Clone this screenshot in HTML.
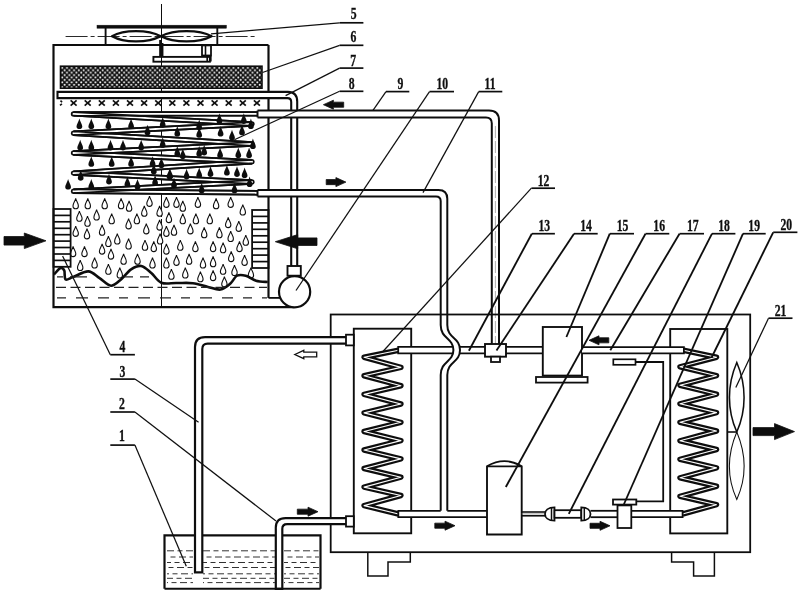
<!DOCTYPE html>
<html><head><meta charset="utf-8"><title>Diagram</title>
<style>
html,body{margin:0;padding:0;background:#fff;}
body{width:800px;height:595px;overflow:hidden;font-family:"Liberation Serif",serif;}
svg{display:block;}
.lb{font-family:"Liberation Serif",serif;font-weight:bold;font-size:16.5px;fill:#111;stroke:#111;stroke-width:0.35px;}
</style></head><body>
<svg width="800" height="595" viewBox="0 0 800 595" fill="none" stroke="#111">
<defs><filter id="soft" x="0" y="0" width="100%" height="100%" filterUnits="userSpaceOnUse"><feGaussianBlur stdDeviation="0.45"/></filter></defs>
<rect x="0" y="0" width="800" height="595" fill="#fff" stroke="none"/>
<g filter="url(#soft)">
<rect x="0" y="0" width="800" height="595" fill="#fff" stroke="none"/>
<path d="M268.5,45 L53.5,45 L53.5,307.2 L294,307.2" stroke-width="2.2" fill="none" />
<path d="M268.5,45 L268.5,298" stroke-width="2.2" fill="none" />
<line x1="161.5" y1="4" x2="161.5" y2="204" stroke-width="1.0" />
<line x1="161.5" y1="204" x2="161.5" y2="232" stroke-width="1.0" stroke-dasharray="9 2 2 2"/>
<line x1="161.5" y1="232" x2="161.5" y2="307.2" stroke-width="1.0" />
<rect x="97" y="25.2" width="129.4" height="3.0" stroke-width="0.5" fill="#111" />
<line x1="105.6" y1="28" x2="105.6" y2="45" stroke-width="1.9" />
<line x1="217.3" y1="28" x2="217.3" y2="45" stroke-width="1.9" />
<line x1="65.6" y1="36.5" x2="257" y2="36.5" stroke-width="0.9" stroke-dasharray="22 3 4 3"/>
<path d="M112,36.3 C124,29.4 148,29.6 160.8,36.3 C148,43 124,43.2 112,36.3 Z" stroke-width="2.3" fill="none" stroke-linejoin="round"/>
<path d="M211.6,36.3 C199,29.4 174,29.6 160.8,36.3 C174,43 199,43.2 211.6,36.3 Z" stroke-width="2.3" fill="none" stroke-linejoin="round"/>
<line x1="160.3" y1="40" x2="160.3" y2="57" stroke-width="2.3" />
<line x1="162.7" y1="43" x2="162.7" y2="57" stroke-width="1.5" />
<rect x="202" y="45.4" width="9" height="10.1" stroke-width="1.8" fill="none" />
<line x1="205.5" y1="45.4" x2="205.5" y2="55.5" stroke-width="1.6" />
<line x1="207.2" y1="55.5" x2="207.2" y2="61.5" stroke-width="1.7" />
<line x1="210.8" y1="55.5" x2="210.8" y2="61.5" stroke-width="1.7" />
<rect x="153.4" y="56.9" width="56.5" height="4.8" stroke-width="1.9" fill="none" />
<defs><pattern id="ht" width="4.76" height="4.86" patternUnits="userSpaceOnUse" x="61" y="66.6"><rect width="4.76" height="4.86" fill="#111" stroke="none"/><circle cx="1.19" cy="1.21" r="1.02" fill="#fff" stroke="none"/><circle cx="3.57" cy="3.64" r="1.02" fill="#fff" stroke="none"/></pattern></defs>
<rect x="60.5" y="66.2" width="201.5" height="22" fill="url(#ht)" stroke="#111" stroke-width="1.6"/>
<path d="M291.2,266 L291.2,102 Q291.2,98.1 287.5,98.1 L57.5,98.1 L57.5,91.9 L288,91.9 Q297.2,91.9 297.2,101.5 L297.2,266" stroke-width="2.1" fill="#fff" />
<line x1="60.5" y1="100.6" x2="62.1" y2="102.2" stroke-width="1.6" />
<line x1="60.0" y1="105.4" x2="61.9" y2="103.8" stroke-width="1.6" />
<line x1="70.6" y1="100.3" x2="76.6" y2="105.7" stroke-width="1.7" />
<line x1="70.6" y1="105.7" x2="76.6" y2="100.3" stroke-width="1.7" />
<line x1="84.7" y1="100.3" x2="90.7" y2="105.7" stroke-width="1.7" />
<line x1="84.7" y1="105.7" x2="90.7" y2="100.3" stroke-width="1.7" />
<line x1="98.8" y1="100.3" x2="104.8" y2="105.7" stroke-width="1.7" />
<line x1="98.8" y1="105.7" x2="104.8" y2="100.3" stroke-width="1.7" />
<line x1="112.9" y1="100.3" x2="118.9" y2="105.7" stroke-width="1.7" />
<line x1="112.9" y1="105.7" x2="118.9" y2="100.3" stroke-width="1.7" />
<line x1="127.0" y1="100.3" x2="133.0" y2="105.7" stroke-width="1.7" />
<line x1="127.0" y1="105.7" x2="133.0" y2="100.3" stroke-width="1.7" />
<line x1="141.1" y1="100.3" x2="147.1" y2="105.7" stroke-width="1.7" />
<line x1="141.1" y1="105.7" x2="147.1" y2="100.3" stroke-width="1.7" />
<line x1="155.2" y1="100.3" x2="161.2" y2="105.7" stroke-width="1.7" />
<line x1="155.2" y1="105.7" x2="161.2" y2="100.3" stroke-width="1.7" />
<line x1="169.3" y1="100.3" x2="175.3" y2="105.7" stroke-width="1.7" />
<line x1="169.3" y1="105.7" x2="175.3" y2="100.3" stroke-width="1.7" />
<line x1="183.39999999999998" y1="100.3" x2="189.39999999999998" y2="105.7" stroke-width="1.7" />
<line x1="183.39999999999998" y1="105.7" x2="189.39999999999998" y2="100.3" stroke-width="1.7" />
<line x1="197.5" y1="100.3" x2="203.5" y2="105.7" stroke-width="1.7" />
<line x1="197.5" y1="105.7" x2="203.5" y2="100.3" stroke-width="1.7" />
<line x1="211.6" y1="100.3" x2="217.6" y2="105.7" stroke-width="1.7" />
<line x1="211.6" y1="105.7" x2="217.6" y2="100.3" stroke-width="1.7" />
<line x1="225.7" y1="100.3" x2="231.7" y2="105.7" stroke-width="1.7" />
<line x1="225.7" y1="105.7" x2="231.7" y2="100.3" stroke-width="1.7" />
<line x1="239.79999999999998" y1="100.3" x2="245.79999999999998" y2="105.7" stroke-width="1.7" />
<line x1="239.79999999999998" y1="105.7" x2="245.79999999999998" y2="100.3" stroke-width="1.7" />
<line x1="253.89999999999998" y1="100.3" x2="259.9" y2="105.7" stroke-width="1.7" />
<line x1="253.89999999999998" y1="105.7" x2="259.9" y2="100.3" stroke-width="1.7" />
<path d="M258,113.9 L73.5,113.9 L252,124 L73.5,133.3 L252,144 L73.5,153 L252,161.8 L73.5,173.1 L252,182 L73.5,191.3 L258,192.8" stroke="#111" stroke-width="5.4" fill="none" stroke-linejoin="round" stroke-linecap="butt"/>
<path d="M258,113.9 L73.5,113.9 L252,124 L73.5,133.3 L252,144 L73.5,153 L252,161.8 L73.5,173.1 L252,182 L73.5,191.3 L258,192.8" stroke="#fff" stroke-width="1.9" fill="none" stroke-linejoin="round" stroke-linecap="butt"/>
<line x1="258.00" y1="112.05" x2="73.50" y2="112.05" stroke="#111" stroke-width="1.7"/>
<line x1="258.00" y1="115.75" x2="73.50" y2="115.75" stroke="#111" stroke-width="1.7"/>
<line x1="73.40" y1="115.75" x2="251.90" y2="125.85" stroke="#111" stroke-width="1.7"/>
<line x1="73.60" y1="112.05" x2="252.10" y2="122.15" stroke="#111" stroke-width="1.7"/>
<line x1="251.90" y1="122.15" x2="73.40" y2="131.45" stroke="#111" stroke-width="1.7"/>
<line x1="252.10" y1="125.85" x2="73.60" y2="135.15" stroke="#111" stroke-width="1.7"/>
<line x1="73.39" y1="135.15" x2="251.89" y2="145.85" stroke="#111" stroke-width="1.7"/>
<line x1="73.61" y1="131.45" x2="252.11" y2="142.15" stroke="#111" stroke-width="1.7"/>
<line x1="251.91" y1="142.15" x2="73.41" y2="151.15" stroke="#111" stroke-width="1.7"/>
<line x1="252.09" y1="145.85" x2="73.59" y2="154.85" stroke="#111" stroke-width="1.7"/>
<line x1="73.41" y1="154.85" x2="251.91" y2="163.65" stroke="#111" stroke-width="1.7"/>
<line x1="73.59" y1="151.15" x2="252.09" y2="159.95" stroke="#111" stroke-width="1.7"/>
<line x1="251.88" y1="159.95" x2="73.38" y2="171.25" stroke="#111" stroke-width="1.7"/>
<line x1="252.12" y1="163.65" x2="73.62" y2="174.95" stroke="#111" stroke-width="1.7"/>
<line x1="73.41" y1="174.95" x2="251.91" y2="183.85" stroke="#111" stroke-width="1.7"/>
<line x1="73.59" y1="171.25" x2="252.09" y2="180.15" stroke="#111" stroke-width="1.7"/>
<line x1="251.90" y1="180.15" x2="73.40" y2="189.45" stroke="#111" stroke-width="1.7"/>
<line x1="252.10" y1="183.85" x2="73.60" y2="193.15" stroke="#111" stroke-width="1.7"/>
<line x1="73.48" y1="193.15" x2="257.98" y2="194.65" stroke="#111" stroke-width="1.7"/>
<line x1="73.52" y1="189.45" x2="258.02" y2="190.95" stroke="#111" stroke-width="1.7"/>
<defs><path id="bd" d="M0,-5.6 C0.5,-3 2.9,0.2 2.9,2.4 C2.9,4.2 1.5,5 0,5 C-1.5,5 -2.9,4.2 -2.9,2.4 C-2.9,0.2 -0.5,-3 0,-5.6 Z" fill="#111" stroke="none"/>
<path id="od" d="M0,-5.4 C0.5,-2.7 2.7,-0.5 2.7,2.1 C2.7,3.9 1.5,4.9 0,4.9 C-1.5,4.9 -2.7,3.9 -2.7,2.1 C-2.7,-0.5 -0.5,-2.7 0,-5.4 Z" fill="#fff" stroke="#111" stroke-width="1.1"/></defs>
<use href="#bd" x="79.4" y="124"/>
<use href="#bd" x="91.3" y="124"/>
<use href="#bd" x="108.4" y="124"/>
<use href="#bd" x="131.1" y="124"/>
<use href="#bd" x="162.7" y="122.7"/>
<use href="#bd" x="147.5" y="130.3"/>
<use href="#bd" x="177.3" y="131.5"/>
<use href="#bd" x="80.2" y="145.4"/>
<use href="#bd" x="91.3" y="145.4"/>
<use href="#bd" x="110.5" y="145.4"/>
<use href="#bd" x="123" y="145.4"/>
<use href="#bd" x="141.2" y="145.4"/>
<use href="#bd" x="162.7" y="142.9"/>
<use href="#bd" x="177.3" y="151.7"/>
<use href="#bd" x="182.8" y="154.2"/>
<use href="#bd" x="91.3" y="161.8"/>
<use href="#bd" x="111.7" y="161.8"/>
<use href="#bd" x="131.1" y="161.8"/>
<use href="#bd" x="152.6" y="161.8"/>
<use href="#bd" x="161.4" y="163"/>
<use href="#bd" x="153.8" y="169.4"/>
<use href="#bd" x="80.7" y="175.7"/>
<use href="#bd" x="68.1" y="184.5"/>
<use href="#bd" x="91.3" y="184.5"/>
<use href="#bd" x="109" y="179.4"/>
<use href="#bd" x="127.4" y="182"/>
<use href="#bd" x="137.5" y="184.5"/>
<use href="#bd" x="155.1" y="180.7"/>
<use href="#bd" x="169.5" y="174.4"/>
<use href="#bd" x="186.6" y="174.4"/>
<use href="#bd" x="174" y="183.2"/>
<use href="#bd" x="219.4" y="118.9"/>
<use href="#bd" x="243.8" y="118.9"/>
<use href="#bd" x="250.9" y="124"/>
<use href="#bd" x="199.2" y="125.2"/>
<use href="#bd" x="199.2" y="132.8"/>
<use href="#bd" x="220.6" y="131.5"/>
<use href="#bd" x="232" y="135.3"/>
<use href="#bd" x="242" y="130.3"/>
<use href="#bd" x="252.9" y="144.1"/>
<use href="#bd" x="199.2" y="151.7"/>
<use href="#bd" x="204.2" y="150.4"/>
<use href="#bd" x="220.1" y="153"/>
<use href="#bd" x="238.3" y="153"/>
<use href="#bd" x="249.1" y="153"/>
<use href="#bd" x="170.2" y="174.4"/>
<use href="#bd" x="199.2" y="173.1"/>
<use href="#bd" x="210.5" y="171.9"/>
<use href="#bd" x="226.9" y="170.6"/>
<use href="#bd" x="237" y="171.9"/>
<use href="#bd" x="244.6" y="173.1"/>
<use href="#bd" x="201.7" y="188.3"/>
<use href="#bd" x="234.5" y="188.3"/>
<use href="#bd" x="249.6" y="182"/>
<use href="#od" x="149.5" y="201.5"/>
<use href="#od" x="75.7" y="203.8"/>
<use href="#od" x="87.8" y="203.8"/>
<use href="#od" x="104.7" y="203.8"/>
<use href="#od" x="121.1" y="203.8"/>
<use href="#od" x="129.1" y="206.3"/>
<use href="#od" x="79.4" y="216.4"/>
<use href="#od" x="87.5" y="221.4"/>
<use href="#od" x="96.6" y="215.1"/>
<use href="#od" x="111.7" y="218.9"/>
<use href="#od" x="128.6" y="224.0"/>
<use href="#od" x="136.9" y="218.9"/>
<use href="#od" x="144.3" y="211.3"/>
<use href="#od" x="75.7" y="231.5"/>
<use href="#od" x="87.0" y="234.0"/>
<use href="#od" x="102.1" y="230.3"/>
<use href="#od" x="108.4" y="241.6"/>
<use href="#od" x="117.3" y="239.1"/>
<use href="#od" x="128.6" y="244.1"/>
<use href="#od" x="146.3" y="229.0"/>
<use href="#od" x="145.0" y="245.4"/>
<use href="#od" x="73.1" y="251.7"/>
<use href="#od" x="84.5" y="251.7"/>
<use href="#od" x="102.1" y="249.2"/>
<use href="#od" x="111.0" y="254.2"/>
<use href="#od" x="123.6" y="259.3"/>
<use href="#od" x="137.5" y="259.3"/>
<use href="#od" x="80.2" y="265.6"/>
<use href="#od" x="94.6" y="263.1"/>
<use href="#od" x="108.4" y="269.4"/>
<use href="#od" x="119.8" y="273.1"/>
<use href="#od" x="166.4" y="202.5"/>
<use href="#od" x="176.5" y="202.5"/>
<use href="#od" x="182.8" y="206.3"/>
<use href="#od" x="197.9" y="202.5"/>
<use href="#od" x="216.1" y="203.8"/>
<use href="#od" x="230.7" y="202.5"/>
<use href="#od" x="159.6" y="211.3"/>
<use href="#od" x="168.9" y="217.7"/>
<use href="#od" x="182.8" y="218.9"/>
<use href="#od" x="195.9" y="218.9"/>
<use href="#od" x="209.8" y="218.9"/>
<use href="#od" x="228.2" y="222.7"/>
<use href="#od" x="242.8" y="210.1"/>
<use href="#od" x="159.6" y="225.2"/>
<use href="#od" x="166.4" y="231.5"/>
<use href="#od" x="174.0" y="230.3"/>
<use href="#od" x="190.4" y="229.0"/>
<use href="#od" x="204.2" y="232.8"/>
<use href="#od" x="219.4" y="232.8"/>
<use href="#od" x="230.7" y="236.6"/>
<use href="#od" x="238.8" y="226.5"/>
<use href="#od" x="245.8" y="240.4"/>
<use href="#od" x="153.8" y="246.7"/>
<use href="#od" x="166.4" y="249.2"/>
<use href="#od" x="180.3" y="245.4"/>
<use href="#od" x="195.4" y="246.7"/>
<use href="#od" x="213.1" y="246.7"/>
<use href="#od" x="223.1" y="247.9"/>
<use href="#od" x="239.5" y="246.7"/>
<use href="#od" x="160.1" y="239.1"/>
<use href="#od" x="152.5" y="263.1"/>
<use href="#od" x="166.4" y="263.1"/>
<use href="#od" x="176.5" y="260.5"/>
<use href="#od" x="189.1" y="259.3"/>
<use href="#od" x="203.0" y="263.1"/>
<use href="#od" x="213.1" y="261.8"/>
<use href="#od" x="231.2" y="256.7"/>
<use href="#od" x="244.6" y="260.5"/>
<use href="#od" x="171.4" y="274.4"/>
<use href="#od" x="185.3" y="273.1"/>
<use href="#od" x="200.4" y="276.9"/>
<use href="#od" x="213.1" y="275.7"/>
<use href="#od" x="223.1" y="269.4"/>
<use href="#od" x="224.4" y="282.0"/>
<use href="#od" x="234.5" y="270.6"/>
<use href="#od" x="250.9" y="273.1"/>
<rect x="53.5" y="209" width="17.1" height="57.8" stroke-width="1.8" fill="none" />
<line x1="53.5" y1="215.4" x2="70.6" y2="215.4" stroke-width="1.7" />
<line x1="53.5" y1="221.8" x2="70.6" y2="221.8" stroke-width="1.7" />
<line x1="53.5" y1="228.3" x2="70.6" y2="228.3" stroke-width="1.7" />
<line x1="53.5" y1="234.7" x2="70.6" y2="234.7" stroke-width="1.7" />
<line x1="53.5" y1="241.1" x2="70.6" y2="241.1" stroke-width="1.7" />
<line x1="53.5" y1="247.5" x2="70.6" y2="247.5" stroke-width="1.7" />
<line x1="53.5" y1="254.0" x2="70.6" y2="254.0" stroke-width="1.7" />
<line x1="53.5" y1="260.4" x2="70.6" y2="260.4" stroke-width="1.7" />
<rect x="252.1" y="210" width="16.4" height="58" stroke-width="1.8" fill="none" />
<line x1="252.1" y1="216.4" x2="268.5" y2="216.4" stroke-width="1.7" />
<line x1="252.1" y1="222.9" x2="268.5" y2="222.9" stroke-width="1.7" />
<line x1="252.1" y1="229.3" x2="268.5" y2="229.3" stroke-width="1.7" />
<line x1="252.1" y1="235.8" x2="268.5" y2="235.8" stroke-width="1.7" />
<line x1="252.1" y1="242.2" x2="268.5" y2="242.2" stroke-width="1.7" />
<line x1="252.1" y1="248.7" x2="268.5" y2="248.7" stroke-width="1.7" />
<line x1="252.1" y1="255.1" x2="268.5" y2="255.1" stroke-width="1.7" />
<line x1="252.1" y1="261.6" x2="268.5" y2="261.6" stroke-width="1.7" />
<path d="M54,274.5 C55.1,273.4 58.8,268.6 60.5,268 C62.2,267.4 63.4,268.7 64.3,270.6 C65.1,272.5 64.1,278.3 65.6,279.4 C67.1,280.5 69.3,278.3 73.1,277 C76.9,275.7 83.9,271.2 88.3,271.4 C92.7,271.6 95.8,275.8 99.6,278.2 C103.4,280.6 107.4,285.5 111,285.7 C114.6,285.9 117.7,282.1 121,279.4 C124.3,276.7 127.7,271.6 131.1,269.4 C134.5,267.2 137.8,265.4 141.2,266 C144.6,266.6 147.9,270.2 151.3,273 C154.7,275.8 157.2,281.0 161.4,282.7 C165.6,284.4 171.2,282.9 176.5,283 C181.8,283.1 187.7,282.5 192.9,283.2 C198.2,283.9 203.4,285.9 208,287 C212.6,288.1 216.8,290.1 220.6,289.5 C224.4,288.9 228.0,285.5 230.7,283.2 C233.4,280.9 234.5,276.9 237,275.7 C239.5,274.4 242.6,274.9 245.8,275.7 C249.0,276.5 252.3,279.6 256,280.7 C259.7,281.8 265.8,281.8 267.8,282" stroke-width="2.6" fill="none" stroke-linejoin="round"/>
<line x1="57" y1="276.8" x2="150" y2="276.8" stroke="#222" stroke-width="1.3" stroke-dasharray="6 7 17 7 0 30 9 7 9 100"/>
<line x1="56" y1="287.3" x2="267" y2="287.3" stroke="#222" stroke-width="1.3" stroke-dasharray="10 4.5"/>
<line x1="57" y1="297.8" x2="267" y2="297.8" stroke="#222" stroke-width="1.3" stroke-dasharray="9 10 12 10 11 10"/>
<rect x="287.5" y="266" width="13.3" height="9.7" stroke-width="1.9" fill="#fff" />
<circle cx="294.6" cy="291.8" r="15.6" fill="#fff" stroke="#111" stroke-width="2.2"/>
<line x1="268.5" y1="297.9" x2="280.5" y2="297.9" stroke-width="1.8" />
<path d="M46,240.8 L24.3,233.0 L24.3,236.5 L4,236.5 L4,245.10000000000002 L24.3,245.10000000000002 L24.3,248.60000000000002 Z" fill="#111" stroke="#111" stroke-width="0.8" stroke-linejoin="miter"/>
<path d="M275.3,241.7 L297.7,234.6 L297.7,237.89999999999998 L317.0,237.89999999999998 L317.0,245.5 L297.7,245.5 L297.7,248.79999999999998 Z" fill="#111" stroke="#111" stroke-width="0.8" stroke-linejoin="miter"/>
<path d="M323.4,104.7 L333.4,100.2 L333.4,102.15 L343.7,102.15 L343.7,107.25 L333.4,107.25 L333.4,109.2 Z" fill="#111" stroke="#111" stroke-width="0.8" stroke-linejoin="miter"/>
<path d="M345.9,182.1 L335.9,177.6 L335.9,179.54999999999998 L326.2,179.54999999999998 L326.2,184.65 L335.9,184.65 L335.9,186.6 Z" fill="#111" stroke="#111" stroke-width="0.8" stroke-linejoin="miter"/>
<rect x="330.7" y="314.5" width="419.5" height="237.7" stroke-width="1.8" fill="none" />
<path d="M367.8,552.2 L367.8,576 L388,576 L388,562 L410.3,562 L410.3,552.2" stroke-width="1.5" fill="none" />
<path d="M671.6,552.2 L671.6,562 L693.6,562 L693.6,576 L714.4,576 L714.4,552.2" stroke-width="1.5" fill="none" />
<rect x="353.8" y="328.7" width="57.4" height="204.6" stroke-width="1.9" fill="none" />
<rect x="670.2" y="329" width="57.1" height="204.4" stroke-width="1.9" fill="none" />
<path d="M347,337.1 L205,337.1 Q195,337.1 195,347 L195,572.3 L202.3,572.3 L202.3,349 Q202.3,343.6 207.6,343.6 L347,343.6" stroke-width="2.2" fill="#fff" />
<path d="M347,518.1 L285.5,518.1 Q275.8,518.1 275.8,527.6 L275.8,588.8 L282.3,588.8 L282.3,528.8 Q282.3,524.2 287,524.2 L347,524.2" stroke-width="2.2" fill="#fff" />
<rect x="346" y="334.7" width="7.8" height="10.7" stroke-width="1.8" fill="#fff" />
<rect x="346" y="516.2" width="7.8" height="10.4" stroke-width="1.8" fill="#fff" />
<path d="M164.5,588.8 L164.5,535.3 L195,535.3 M202.3,535.3 L275.8,535.3 M282.3,535.3 L320.5,535.3 L320.5,588.8" stroke-width="2.2" fill="none" />
<line x1="164.5" y1="588.8" x2="320.6" y2="588.8" stroke-width="2.1" />
<line x1="167" y1="550.8" x2="193" y2="550.8" stroke-width="1.0" stroke="#333" stroke-dasharray="7 3.5 5 3.5" stroke-dashoffset="0"/>
<line x1="203" y1="550.8" x2="275" y2="550.8" stroke-width="1.0" stroke="#333" stroke-dasharray="7 3.5 5 3.5" stroke-dashoffset="0"/>
<line x1="284" y1="550.8" x2="319" y2="550.8" stroke-width="1.0" stroke="#333" stroke-dasharray="7 3.5 5 3.5" stroke-dashoffset="0"/>
<line x1="167" y1="557" x2="193" y2="557" stroke-width="1.0" stroke="#333" stroke-dasharray="7 3.5 5 3.5" stroke-dashoffset="7"/>
<line x1="203" y1="557" x2="275" y2="557" stroke-width="1.0" stroke="#333" stroke-dasharray="7 3.5 5 3.5" stroke-dashoffset="7"/>
<line x1="284" y1="557" x2="319" y2="557" stroke-width="1.0" stroke="#333" stroke-dasharray="7 3.5 5 3.5" stroke-dashoffset="7"/>
<line x1="167" y1="562.5" x2="193" y2="562.5" stroke-width="1.0" stroke="#333" stroke-dasharray="7 3.5 5 3.5" stroke-dashoffset="3"/>
<line x1="203" y1="562.5" x2="275" y2="562.5" stroke-width="1.0" stroke="#333" stroke-dasharray="7 3.5 5 3.5" stroke-dashoffset="3"/>
<line x1="284" y1="562.5" x2="319" y2="562.5" stroke-width="1.0" stroke="#333" stroke-dasharray="7 3.5 5 3.5" stroke-dashoffset="3"/>
<line x1="167" y1="567.5" x2="193" y2="567.5" stroke-width="1.0" stroke="#333" stroke-dasharray="7 3.5 5 3.5" stroke-dashoffset="9"/>
<line x1="203" y1="567.5" x2="275" y2="567.5" stroke-width="1.0" stroke="#333" stroke-dasharray="7 3.5 5 3.5" stroke-dashoffset="9"/>
<line x1="284" y1="567.5" x2="319" y2="567.5" stroke-width="1.0" stroke="#333" stroke-dasharray="7 3.5 5 3.5" stroke-dashoffset="9"/>
<line x1="167" y1="573.8" x2="193" y2="573.8" stroke-width="1.0" stroke="#333" stroke-dasharray="7 3.5 5 3.5" stroke-dashoffset="5"/>
<line x1="203" y1="573.8" x2="275" y2="573.8" stroke-width="1.0" stroke="#333" stroke-dasharray="7 3.5 5 3.5" stroke-dashoffset="5"/>
<line x1="284" y1="573.8" x2="319" y2="573.8" stroke-width="1.0" stroke="#333" stroke-dasharray="7 3.5 5 3.5" stroke-dashoffset="5"/>
<line x1="167" y1="578.3" x2="193" y2="578.3" stroke-width="1.0" stroke="#333" stroke-dasharray="7 3.5 5 3.5" stroke-dashoffset="1"/>
<line x1="203" y1="578.3" x2="275" y2="578.3" stroke-width="1.0" stroke="#333" stroke-dasharray="7 3.5 5 3.5" stroke-dashoffset="1"/>
<line x1="284" y1="578.3" x2="319" y2="578.3" stroke-width="1.0" stroke="#333" stroke-dasharray="7 3.5 5 3.5" stroke-dashoffset="1"/>
<line x1="167" y1="582.6" x2="193" y2="582.6" stroke-width="1.0" stroke="#333" stroke-dasharray="7 3.5 5 3.5" stroke-dashoffset="6"/>
<line x1="203" y1="582.6" x2="275" y2="582.6" stroke-width="1.0" stroke="#333" stroke-dasharray="7 3.5 5 3.5" stroke-dashoffset="6"/>
<line x1="284" y1="582.6" x2="319" y2="582.6" stroke-width="1.0" stroke="#333" stroke-dasharray="7 3.5 5 3.5" stroke-dashoffset="6"/>
<path d="M294.8,354.5 L303.8,350.3 L303.8,352.2 L316.7,352.2 L316.7,356.8 L303.8,356.8 L303.8,358.7 Z" fill="#fff" stroke="#111" stroke-width="1.3" stroke-linejoin="miter"/>
<path d="M318,511.7 L308,507.2 L308,509.15 L297.3,509.15 L297.3,514.25 L308,514.25 L308,516.2 Z" fill="#111" stroke="#111" stroke-width="0.8" stroke-linejoin="miter"/>
<path d="M398.5,350.3 L364.1,357.3 L400.9,367.4 L364.1,375.8 L400.9,385.7 L364.1,394.4 L400.9,404.0 L364.1,412.9 L400.9,422.3 L364.1,431.5 L400.9,440.6 L364.1,450.0 L400.9,458.9 L364.1,468.5 L400.9,477.2 L364.1,487.1 L400.9,495.5 L364.1,505.6 L398.5,514.0" stroke="#111" stroke-width="5.5" fill="none" stroke-linejoin="round" stroke-linecap="butt"/>
<path d="M398.5,350.3 L364.1,357.3 L400.9,367.4 L364.1,375.8 L400.9,385.7 L364.1,394.4 L400.9,404.0 L364.1,412.9 L400.9,422.3 L364.1,431.5 L400.9,440.6 L364.1,450.0 L400.9,458.9 L364.1,468.5 L400.9,477.2 L364.1,487.1 L400.9,495.5 L364.1,505.6 L398.5,514.0" stroke="#fff" stroke-width="1.1" fill="none" stroke-linejoin="round" stroke-linecap="butt"/>
<path d="M683.5,350.3 L716.5,357.3 L680.0,366.8 L716.5,375.7 L680.0,385.3 L716.5,394.2 L680.0,403.8 L716.5,412.6 L680.0,422.3 L716.5,431.0 L680.0,440.8 L716.5,449.5 L680.0,459.3 L716.5,467.9 L680.0,477.8 L716.5,486.3 L680.0,496.3 L716.5,504.7 L682.6,514.0" stroke="#111" stroke-width="5.5" fill="none" stroke-linejoin="round" stroke-linecap="butt"/>
<path d="M683.5,350.3 L716.5,357.3 L680.0,366.8 L716.5,375.7 L680.0,385.3 L716.5,394.2 L680.0,403.8 L716.5,412.6 L680.0,422.3 L716.5,431.0 L680.0,440.8 L716.5,449.5 L680.0,459.3 L716.5,467.9 L680.0,477.8 L716.5,486.3 L680.0,496.3 L716.5,504.7 L682.6,514.0" stroke="#fff" stroke-width="1.1" fill="none" stroke-linejoin="round" stroke-linecap="butt"/>
<path d="M485,346.8 L398.2,346.8 L398.2,353.3 L485,353.3" stroke-width="1.8" fill="#fff" />
<path d="M257.5,110.6 L489,110.6 Q499,110.6 499,120.6 L499,344 L491.8,344 L491.8,123.2 Q491.8,117.4 486,117.4 L257.5,117.4 Z" fill="#fff" stroke="none"/>
<path d="M257.5,110.6 L489,110.6 Q499,110.6 499,120.6 L499,344" stroke-width="2.0" fill="none" />
<path d="M257.5,117.4 L486,117.4 Q491.8,117.4 491.8,123.2 L491.8,344" stroke-width="2.0" fill="none" />
<line x1="257.5" y1="110.6" x2="257.5" y2="117.4" stroke-width="2.0" />
<line x1="495.4" y1="126" x2="495.4" y2="344" stroke-width="0.8" stroke="#999" stroke-dasharray="12 3"/>
<path d="M257.5,190 L438.5,190 Q447.3,190 447.3,198.8 L447.3,325 C447.3,339 460,337 460,350 C460,363 447.3,361 447.3,375 L447.3,513 L440.7,513 L440.7,375 C440.7,361 453.4,362 453.4,350 C453.4,338 440.7,339 440.7,325 L440.7,201 Q440.7,196.4 436,196.4 L257.5,196.4 Z" fill="#fff" stroke="none"/>
<path d="M257.5,190 L438.5,190 Q447.3,190 447.3,198.8 L447.3,325 C447.3,339 460,337 460,350 C460,363 447.3,361 447.3,375 L447.3,510.8" stroke-width="2.0" fill="none" />
<path d="M257.5,196.4 L436,196.4 Q440.7,196.4 440.7,201 L440.7,325 C440.7,339 453.4,338 453.4,350 C453.4,362 440.7,361 440.7,375 L440.7,510.8" stroke-width="2.0" fill="none" />
<line x1="257.5" y1="190" x2="257.5" y2="196.4" stroke-width="2.0" />
<line x1="440.2" y1="314.5" x2="447.8" y2="314.5" stroke-width="1.8" />
<line x1="491.3" y1="314.5" x2="499.5" y2="314.5" stroke-width="1.8" />
<line x1="506" y1="346.8" x2="542.8" y2="346.8" stroke-width="1.8" />
<line x1="506" y1="353.3" x2="542.8" y2="353.3" stroke-width="1.8" />
<rect x="485" y="344" width="21" height="12.7" stroke-width="1.9" fill="#fff" />
<rect x="491" y="356.7" width="9" height="5.3" stroke-width="1.8" fill="#fff" />
<rect x="542.8" y="327" width="39.2" height="48.6" stroke-width="1.9" fill="#fff" />
<rect x="536" y="377" width="51.6" height="5.6" stroke-width="1.8" fill="#fff" />
<path d="M582,347.1 L683.9,347.1 L683.9,353.3 L582,353.3" stroke-width="1.8" fill="#fff" />
<path d="M589,340.3 L599,335.8 L599,337.75 L608.8,337.75 L608.8,342.85 L599,342.85 L599,344.8 Z" fill="#111" stroke="#111" stroke-width="0.8" stroke-linejoin="miter"/>
<rect x="613.3" y="359.3" width="22.2" height="5.5" stroke-width="1.7" fill="#fff" />
<path d="M635.5,362 L663.2,362 L663.2,501.3 L636.3,501.3" stroke-width="1.8" fill="none" />
<path d="M487,534.5 L487,466.3 Q504.4,456 521.7,466.3 L521.7,534.5 Z" stroke-width="1.9" fill="#fff" />
<line x1="487" y1="466.3" x2="521.7" y2="466.3" stroke-width="1.7" />
<rect x="398.3" y="510.8" width="40" height="6.4" fill="#fff" stroke="none"/>
<path d="M487,510.8 L447.3,510.8 M440.7,510.8 L398.3,510.8 L398.3,517.2 L487,517.2" stroke-width="1.8" fill="none" />
<path d="M455,525.7 L445,521.2 L445,523.1500000000001 L434.8,523.1500000000001 L434.8,528.25 L445,528.25 L445,530.2 Z" fill="#111" stroke="#111" stroke-width="0.8" stroke-linejoin="miter"/>
<line x1="521.7" y1="512" x2="545" y2="512" stroke-width="1.6" />
<line x1="521.7" y1="515.8" x2="545" y2="515.8" stroke-width="1.6" />
<line x1="521.7" y1="513.9" x2="545" y2="513.9" stroke-width="0.7" stroke="#777"/>
<path d="M554.5,507.3 L554.5,520.7 C548,520.7 545,517.5 545,514 C545,510.5 548,507.3 554.5,507.3 Z" stroke-width="1.8" fill="#fff" />
<line x1="551.5" y1="507.8" x2="551.5" y2="520.2" stroke-width="1.5" />
<rect x="554.5" y="510.2" width="26.8" height="7.6" stroke-width="1.8" fill="#fff" />
<path d="M581.3,507.3 L581.3,520.7 C587.5,520.7 590.5,517.5 590.5,514 C590.5,510.5 587.5,507.3 581.3,507.3 Z" stroke-width="1.8" fill="#fff" />
<line x1="584.3" y1="507.8" x2="584.3" y2="520.2" stroke-width="1.5" />
<line x1="590.5" y1="510.8" x2="617.5" y2="510.8" stroke-width="1.8" />
<line x1="590.5" y1="517.2" x2="617.5" y2="517.2" stroke-width="1.8" />
<path d="M631.3,510.8 L682.6,510.8 L682.6,517.2 L631.3,517.2" stroke-width="1.8" fill="#fff" />
<rect x="613" y="499.5" width="23.3" height="5.1" stroke-width="1.8" fill="#fff" />
<rect x="617.5" y="505.4" width="13.8" height="22.6" stroke-width="1.8" fill="#fff" />
<path d="M610,525.8 L600,521.3 L600,523.25 L590,523.25 L590,528.3499999999999 L600,528.3499999999999 L600,530.3 Z" fill="#111" stroke="#111" stroke-width="0.8" stroke-linejoin="miter"/>
<path d="M736.8,362.5 C727,385 727,410 736.8,432 C746.5,410 746.5,385 736.8,362.5 Z" stroke-width="1.55" fill="none" />
<path d="M736.8,432 C727,455 727,478 736.8,499.5 C746.5,478 746.5,455 736.8,432 Z" stroke-width="1.05" fill="none" />
<line x1="727.3" y1="432" x2="737" y2="432" stroke-width="1.6" />
<path d="M794.5,431.6 L774.5,423.6 L774.5,427.6 L753.0,427.6 L753.0,435.6 L774.5,435.6 L774.5,439.6 Z" fill="#111" stroke="#111" stroke-width="0.8" stroke-linejoin="miter"/>
<text x="353.8" y="18.9" text-anchor="middle" class="lb" transform="translate(353.8,0) scale(0.71,1) translate(-353.8,0)">5</text>
<line x1="339.6" y1="22.8" x2="363.4" y2="22.8" stroke-width="1.7" />
<line x1="339.6" y1="22.8" x2="211" y2="33.8" stroke-width="1.25"/>
<text x="353.4" y="42.2" text-anchor="middle" class="lb" transform="translate(353.4,0) scale(0.71,1) translate(-353.4,0)">6</text>
<line x1="339.6" y1="45.3" x2="363.4" y2="45.3" stroke-width="1.7" />
<line x1="339.6" y1="45.3" x2="262.5" y2="72.5" stroke-width="1.25"/>
<text x="353.2" y="65.6" text-anchor="middle" class="lb" transform="translate(353.2,0) scale(0.71,1) translate(-353.2,0)">7</text>
<line x1="339.6" y1="68.1" x2="363.4" y2="68.1" stroke-width="1.7" />
<line x1="339.6" y1="68.1" x2="285.6" y2="95.6" stroke-width="1.25"/>
<text x="351.8" y="89.3" text-anchor="middle" class="lb" transform="translate(351.8,0) scale(0.71,1) translate(-351.8,0)">8</text>
<line x1="339.6" y1="91.3" x2="363.4" y2="91.3" stroke-width="1.7" />
<line x1="339.6" y1="91.3" x2="234.4" y2="139.7" stroke-width="1.25"/>
<text x="400.5" y="89.1" text-anchor="middle" class="lb" transform="translate(400.5,0) scale(0.71,1) translate(-400.5,0)">9</text>
<line x1="386" y1="91.6" x2="409.3" y2="91.6" stroke-width="1.7" />
<line x1="386" y1="91.6" x2="372.8" y2="110.7" stroke-width="1.25"/>
<text x="442.3" y="89.1" text-anchor="middle" class="lb" transform="translate(442.3,0) scale(0.71,1) translate(-442.3,0)">10</text>
<line x1="429.5" y1="91.6" x2="454" y2="91.6" stroke-width="1.7" />
<line x1="429.5" y1="91.6" x2="296" y2="290.5" stroke-width="1.25"/>
<text x="490" y="89.1" text-anchor="middle" class="lb" transform="translate(490,0) scale(0.71,1) translate(-490,0)">11</text>
<line x1="478.7" y1="91.6" x2="502.3" y2="91.6" stroke-width="1.7" />
<line x1="478.7" y1="91.6" x2="423" y2="192.6" stroke-width="1.25"/>
<text x="543.5" y="185.9" text-anchor="middle" class="lb" transform="translate(543.5,0) scale(0.71,1) translate(-543.5,0)">12</text>
<line x1="531.4" y1="188.2" x2="555" y2="188.2" stroke-width="1.7" />
<line x1="531.4" y1="188.2" x2="382.5" y2="352" stroke-width="1.25"/>
<text x="544.3" y="231.29999999999998" text-anchor="middle" class="lb" transform="translate(544.3,0) scale(0.71,1) translate(-544.3,0)">13</text>
<line x1="531.8" y1="233.7" x2="554.9" y2="233.7" stroke-width="1.7" />
<line x1="531.8" y1="233.7" x2="468.9" y2="350.8" stroke-width="1.85"/>
<text x="586" y="231.29999999999998" text-anchor="middle" class="lb" transform="translate(586,0) scale(0.71,1) translate(-586,0)">14</text>
<line x1="574" y1="233.7" x2="597.7" y2="233.7" stroke-width="1.7" />
<line x1="574" y1="233.7" x2="496.5" y2="350.5" stroke-width="1.85"/>
<text x="622.5" y="231.29999999999998" text-anchor="middle" class="lb" transform="translate(622.5,0) scale(0.71,1) translate(-622.5,0)">15</text>
<line x1="609.8" y1="233.7" x2="634" y2="233.7" stroke-width="1.7" />
<line x1="609.8" y1="233.7" x2="566.4" y2="337" stroke-width="1.85"/>
<text x="659.2" y="231.29999999999998" text-anchor="middle" class="lb" transform="translate(659.2,0) scale(0.71,1) translate(-659.2,0)">16</text>
<line x1="645.5" y1="233.7" x2="669.3" y2="233.7" stroke-width="1.7" />
<line x1="645.5" y1="233.7" x2="505.8" y2="487" stroke-width="1.85"/>
<text x="692.8" y="231.29999999999998" text-anchor="middle" class="lb" transform="translate(692.8,0) scale(0.71,1) translate(-692.8,0)">17</text>
<line x1="679.5" y1="233.7" x2="704" y2="233.7" stroke-width="1.7" />
<line x1="679.5" y1="233.7" x2="610.3" y2="350.3" stroke-width="1.85"/>
<text x="724" y="231.29999999999998" text-anchor="middle" class="lb" transform="translate(724,0) scale(0.71,1) translate(-724,0)">18</text>
<line x1="712" y1="233.7" x2="735.4" y2="233.7" stroke-width="1.7" />
<line x1="712" y1="233.7" x2="568.8" y2="513.8" stroke-width="1.85"/>
<text x="754.2" y="231.29999999999998" text-anchor="middle" class="lb" transform="translate(754.2,0) scale(0.71,1) translate(-754.2,0)">19</text>
<line x1="743" y1="233.7" x2="765.7" y2="233.7" stroke-width="1.7" />
<line x1="743" y1="233.7" x2="623.8" y2="504.5" stroke-width="1.85"/>
<text x="786.3" y="230.1" text-anchor="middle" class="lb" transform="translate(786.3,0) scale(0.71,1) translate(-786.3,0)">20</text>
<line x1="773.2" y1="232.29999999999998" x2="797.4" y2="232.29999999999998" stroke-width="1.7" />
<line x1="773.2" y1="232.29999999999998" x2="711.6" y2="357.5" stroke-width="1.85"/>
<text x="780.5" y="315.7" text-anchor="middle" class="lb" transform="translate(780.5,0) scale(0.71,1) translate(-780.5,0)">21</text>
<line x1="768.5" y1="318.2" x2="792.5" y2="318.2" stroke-width="1.7" />
<line x1="768.5" y1="318.2" x2="735.8" y2="387.6" stroke-width="1.25"/>
<text x="122.5" y="351.8" text-anchor="middle" class="lb" transform="translate(122.5,0) scale(0.71,1) translate(-122.5,0)">4</text>
<line x1="110.3" y1="354.7" x2="134.9" y2="354.7" stroke-width="1.7" />
<line x1="110.3" y1="354.7" x2="62.6" y2="256" stroke-width="1.25"/>
<text x="122.5" y="377" text-anchor="middle" class="lb" transform="translate(122.5,0) scale(0.71,1) translate(-122.5,0)">3</text>
<line x1="110.3" y1="379.1" x2="134.9" y2="379.1" stroke-width="1.7" />
<line x1="134.9" y1="379.1" x2="198.6" y2="422.3" stroke-width="1.25"/>
<text x="122" y="408.7" text-anchor="middle" class="lb" transform="translate(122,0) scale(0.71,1) translate(-122,0)">2</text>
<line x1="110.3" y1="412" x2="134.9" y2="412" stroke-width="1.7" />
<line x1="134.9" y1="412" x2="276" y2="521" stroke-width="1.25"/>
<text x="122" y="441.3" text-anchor="middle" class="lb" transform="translate(122,0) scale(0.71,1) translate(-122,0)">1</text>
<line x1="110.3" y1="445.1" x2="134.9" y2="445.1" stroke-width="1.7" />
<line x1="134.9" y1="445.1" x2="186.3" y2="566.3" stroke-width="1.25"/>
</g>
</svg>
</body></html>
